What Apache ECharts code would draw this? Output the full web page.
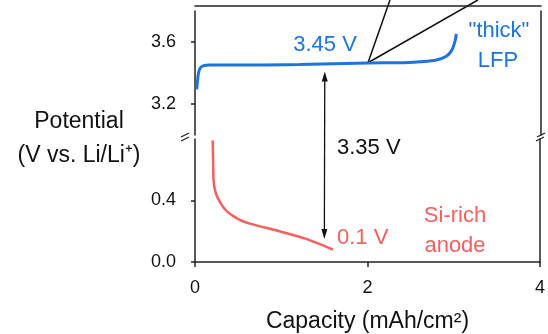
<!DOCTYPE html>
<html>
<head>
<meta charset="utf-8">
<script src="https://cdn.jsdelivr.net/npm/echarts@6/dist/echarts.min.js"></script>
<style>html,body{margin:0;padding:0;background:#fff;}#c{width:548px;height:334px;}</style>
</head>
<body>
<div id="c"></div>
<script>
// ---- data ----
const lfpCapacity = [0.02, 0.03, 0.04, 0.06, 0.10, 0.17, 0.64, 1.21, 2.00, 2.37, 2.60, 2.79, 2.91, 2.97, 3.01, 3.02];
const lfpPotential = [3.295, 3.355, 3.398, 3.432, 3.448, 3.452, 3.452, 3.455, 3.465, 3.466, 3.473, 3.484, 3.51, 3.548, 3.613, 3.652];
const siCapacity = [0.205, 0.21, 0.215, 0.24, 0.29, 0.36, 0.44, 0.555, 0.67, 0.98, 1.29, 1.60];
const siPotential = [0.79, 0.665, 0.535, 0.45, 0.39, 0.335, 0.30, 0.265, 0.245, 0.20, 0.15, 0.08];
const xTicks = [0, 2, 4];
const yTicksTop = [3.2, 3.6];
const yTicksBottom = [0.0, 0.4];
// annotation anchors (data units)
const arrowX = 1.5, arrowTopV = 3.41, arrowBottomV = 0.15;
const pointerVertex = [2.0, 3.466];
const pointerEnds = [[2.254, 3.871], [3.27, 3.871]];

const FONT = "'Liberation Sans', Arial, sans-serif";
const BLUE = '#1c74dc';
const RED = '#f55f5f';
const AX = '#222';

const chart = echarts.init(document.getElementById('c'));

const yBase = (gridIndex, min, max, ticks, pos, offset, showLabels) => ({
  type: 'value', gridIndex, min, max, position: pos, offset,
  splitLine: {show: false},
  axisLine: {show: true, lineStyle: {color: AX, width: 1.5}},
  axisTick: {show: showLabels, length: 4, customValues: ticks, lineStyle: {color: AX, width: 1.5}},
  axisLabel: {show: showLabels, customValues: ticks, margin: 9, fontSize: 18, color: '#111', fontFamily: FONT,
              formatter: v => Number(v).toFixed(1)}
});

const option = {
  animation: false,
  grid: [
    {left: 195, right: 7, top: 11, height: 124},
    {left: 195, right: 7, top: 139, height: 124}
  ],
  xAxis: [
    {type: 'value', gridIndex: 0, min: 0, max: 4, position: 'top', offset: 5,
     axisLine: {show: true, lineStyle: {color: AX, width: 1.5}}, axisTick: {show: false}, axisLabel: {show: false}, splitLine: {show: false}},
    {type: 'value', gridIndex: 1, min: 0, max: 4, interval: 2, position: 'bottom', offset: 8,
     axisLine: {show: true, lineStyle: {color: AX, width: 1.5}},
     axisTick: {show: true, length: 5, lineStyle: {color: AX, width: 1.5}},
     axisLabel: {show: true, margin: 9, fontSize: 18, color: '#111', fontFamily: FONT, customValues: xTicks},
     splitLine: {show: false},
     name: 'Capacity (mAh/cm²)', nameLocation: 'middle', nameGap: 40,
     nameTextStyle: {fontSize: 23, color: '#111', fontFamily: FONT}}
  ],
  yAxis: [
    yBase(0, 3.0, 3.8, yTicksTop, 'left', 10, true),
    yBase(0, 3.0, 3.8, yTicksTop, 'right', 0, false),
    yBase(1, 0, 0.8, yTicksBottom, 'left', 10, true),
    yBase(1, 0, 0.8, yTicksBottom, 'right', 0, false)
  ],
  series: [
    {type: 'line', xAxisIndex: 0, yAxisIndex: 0, showSymbol: false, smooth: 0.35,
     data: lfpCapacity.map((x, i) => [x, lfpPotential[i]]),
     lineStyle: {color: BLUE, width: 3}},
    {type: 'line', xAxisIndex: 1, yAxisIndex: 2, showSymbol: false, smooth: 0.35,
     data: siCapacity.map((x, i) => [x, siPotential[i]]),
     lineStyle: {color: RED, width: 2.5}}
  ]
};
chart.setOption(option);

// ---- annotations ----
const p0 = v => chart.convertToPixel({gridIndex: 0}, v);
const p1 = v => chart.convertToPixel({gridIndex: 1}, v);
const g = [];
const txt = (x, y, text, color, align, size) => g.push({type: 'text', x, y, style: {text, fill: color, font: (size || 22) + 'px ' + FONT, textAlign: align || 'center', textVerticalAlign: 'middle'}});

// double arrow
const aTop = p0([arrowX, arrowTopV]);
const aBot = p1([arrowX, arrowBottomV]);
g.push({type: 'line', shape: {x1: aTop[0], y1: aTop[1] + 6, x2: aBot[0], y2: aBot[1] - 6}, style: {stroke: '#111', lineWidth: 1.3}});
g.push({type: 'polygon', shape: {points: [[aTop[0], aTop[1]], [aTop[0] - 3, aTop[1] + 10], [aTop[0] + 3, aTop[1] + 10]]}, style: {fill: '#111'}});
g.push({type: 'polygon', shape: {points: [[aBot[0], aBot[1]], [aBot[0] - 3, aBot[1] - 10], [aBot[0] + 3, aBot[1] - 10]]}, style: {fill: '#111'}});

// pointer lines
const pv = p0(pointerVertex);
pointerEnds.forEach(e => {
  const pe = p0(e);
  g.push({type: 'line', shape: {x1: pv[0], y1: pv[1], x2: pe[0], y2: pe[1]}, style: {stroke: '#111', lineWidth: 1.5}});
});

// axis break marks
const tl = p0([0, 3.0]), bl = p1([0, 0.8]);
const tr = p0([4, 3.0]), br = p1([4, 0.8]);
[[tl[0] - 10, tl[1]], [bl[0] - 10, bl[1]], [tr[0], tr[1]], [br[0], br[1]]].forEach(([x, y]) => {
  g.push({type: 'line', shape: {x1: x - 4, y1: y + 2, x2: x + 4, y2: y - 2}, style: {stroke: AX, lineWidth: 1.3}});
});

// texts
txt(325, 45, '3.45 V', BLUE);
txt(499, 31, '"thick"', BLUE);
txt(498, 61, 'LFP', BLUE);
txt(337, 148, '3.35 V', '#111', 'left');
txt(337, 238, '0.1 V', RED, 'left');
txt(455, 216, 'Si-rich', RED);
txt(455, 246, 'anode', RED);
txt(79, 122, 'Potential', '#111', 'center', 23);
txt(79, 156, '(V vs. Li/Li⁺)', '#111', 'center', 23);

chart.setOption({graphic: g});
</script>
</body>
</html>
